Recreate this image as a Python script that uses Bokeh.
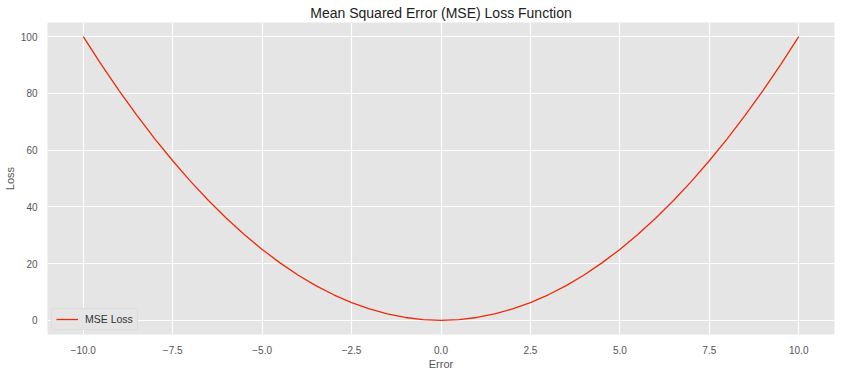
from bokeh.plotting import figure
from bokeh.models import Range1d, SingleIntervalTicker, CustomJSTickFormatter, Legend, LegendItem
from bokeh.embed import file_html
from bokeh.resources import INLINE

# Error values (x) and MSE loss values (y)
error = [-10.0, -9.5, -9.0, -8.5, -8.0, -7.5, -7.0, -6.5, -6.0, -5.5, -5.0,
         -4.5, -4.0, -3.5, -3.0, -2.5, -2.0, -1.5, -1.0, -0.5, 0.0,
         0.5, 1.0, 1.5, 2.0, 2.5, 3.0, 3.5, 4.0, 4.5, 5.0,
         5.5, 6.0, 6.5, 7.0, 7.5, 8.0, 8.5, 9.0, 9.5, 10.0]
loss = [100.0, 90.25, 81.0, 72.25, 64.0, 56.25, 49.0, 42.25, 36.0, 30.25, 25.0,
        20.25, 16.0, 12.25, 9.0, 6.25, 4.0, 2.25, 1.0, 0.25, 0.0,
        0.25, 1.0, 2.25, 4.0, 6.25, 9.0, 12.25, 16.0, 20.25, 25.0,
        30.25, 36.0, 42.25, 49.0, 56.25, 64.0, 72.25, 81.0, 90.25, 100.0]
series_name = "MSE Loss"
title_text = "Mean Squared Error (MSE) Loss Function"
x_label = "Error"
y_label = "Loss"

FONT = "Liberation Sans"

p = figure(frame_width=787, frame_height=312, output_backend="svg", toolbar_location=None,
           x_range=Range1d(-11, 11), y_range=Range1d(-5, 105),
           title=title_text, background_fill_color="#E5E5E5", border_fill_color="white")
p.min_border_left = 0
p.min_border_right = 6
p.min_border_top = 5
p.min_border_bottom = 5
p.outline_line_color = None

p.title.align = "center"
p.title.text_font = FONT
p.title.text_font_size = "14px"
p.title.text_font_style = "normal"
p.title.text_color = "#222222"
p.title.offset = 0
p.title.standoff = 4

p.xaxis.ticker = SingleIntervalTicker(interval=2.5)
p.yaxis.ticker = SingleIntervalTicker(interval=20)
p.xaxis.formatter = CustomJSTickFormatter(code="return tick.toFixed(1).replace('-', '\u2212');")

for ax in (p.xaxis[0], p.yaxis[0]):
    ax.axis_line_color = None
    ax.major_tick_line_color = None
    ax.minor_tick_line_color = None
    ax.major_tick_in = 0
    ax.major_tick_out = 0
    ax.major_label_text_font = FONT
    ax.major_label_text_font_size = "10px"
    ax.major_label_text_color = "#555555"
    ax.axis_label_text_font = FONT
    ax.axis_label_text_font_size = "11px"
    ax.axis_label_text_font_style = "normal"
    ax.axis_label_text_color = "#555555"
p.xaxis.axis_label = x_label
p.yaxis.axis_label = y_label
p.xaxis.major_label_standoff = 7
p.yaxis.major_label_standoff = 6
p.xaxis.axis_label_standoff = 1
p.yaxis.axis_label_standoff = 2

p.grid.grid_line_color = "white"
p.grid.grid_line_width = 1.2

r = p.line(error, loss, line_color="#EE2A0B", line_width=1.3)

legend = Legend(items=[LegendItem(label=series_name, renderers=[r])],
                location=(4, 4), margin=0)
legend.background_fill_color = "#E5E5E5"
legend.background_fill_alpha = 1.0
legend.border_line_color = "#D6D6D6"
legend.border_line_width = 1
legend.border_radius = 2
legend.label_text_font = FONT
legend.label_text_font_size = "10.5px"
legend.label_text_color = "#333333"
legend.glyph_width = 22
legend.glyph_height = 10
legend.label_standoff = 7
legend.padding = 4
legend.label_height = 10
p.add_layout(legend, "center")

open("out.html", "w").write(file_html(p, INLINE))
